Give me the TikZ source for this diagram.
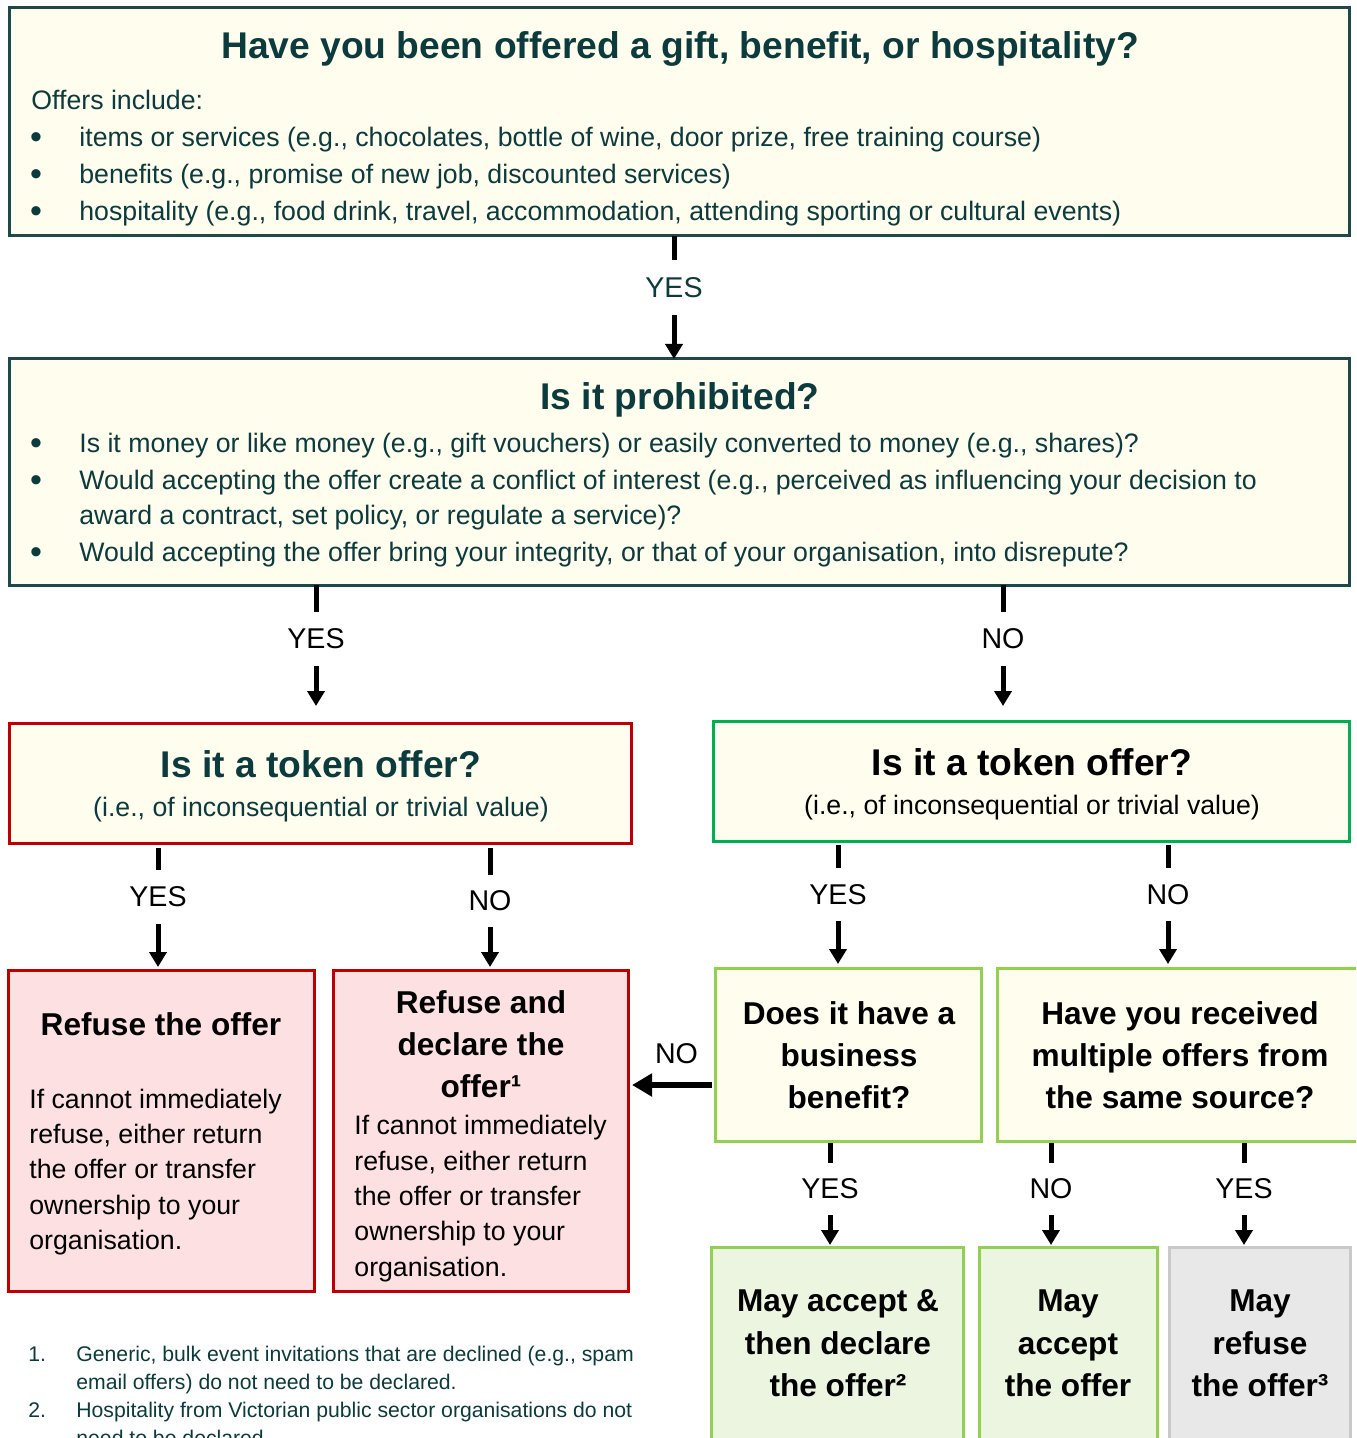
\documentclass[tikz,border=0pt]{standalone}
\usepackage{fontspec}
\setmainfont{Liberation Sans}
\usetikzlibrary{arrows.meta}
\definecolor{tdark}{HTML}{0B3B3C}
\definecolor{topB}{HTML}{1D4A48}
\definecolor{fillY}{HTML}{FEFDEE}
\definecolor{redB}{HTML}{C00000}
\definecolor{pinkF}{HTML}{FDE0E2}
\definecolor{greenB}{HTML}{00B050}
\definecolor{lgreenB}{HTML}{92D050}
\definecolor{lgreenF}{HTML}{EBF5E0}
\definecolor{grayF}{HTML}{E8E8E8}
\definecolor{grayB}{HTML}{C9C9C9}
\newcommand\fTitle{\fontsize{18.6}{22}\selectfont\bfseries}
\newcommand\fBody{\fontsize{13.35}{16}\selectfont}
\newcommand\fHead{\fontsize{15.8}{19}\selectfont\bfseries}
\newcommand\fLab{\fontsize{14.3}{17}\selectfont}
\newcommand\fNote{\fontsize{10.6}{13}\selectfont}
\newcommand\fBul{\fontsize{17}{20}\selectfont}
\begin{document}
\begin{tikzpicture}[x=0.5pt,y=-0.5pt,
  box/.style={draw, line width=1.5pt, inner sep=0pt, outer sep=0pt},
  lt/.style={inner sep=0pt, anchor=base west},
  ct/.style={inner sep=0pt, anchor=base},
  lbl/.style={inner sep=0pt, font=\fLab, text depth=0pt},
  stem/.style={line width=2.5pt},
  arr/.style={line width=2.5pt, -{Triangle[length=7.5pt,width=8.5pt]}},
  harr/.style={line width=3pt, -{Triangle[length=10pt,width=11pt]}},
  bul/.style={inner sep=0pt, anchor=base, font=\fBul, text=tdark}
]
\useasboundingbox (0,0) rectangle (1356,1438);
\begin{scope}
\clip (0,0) rectangle (1356,1438);
\fill[white] (0,0) rectangle (1356,1438);

% ---------- boxes ----------
\node[box, draw=topB, fill=fillY, minimum width=670pt, minimum height=114pt] (q1) at (679,122) {};
\node[box, draw=topB, fill=fillY, minimum width=670pt, minimum height=113pt] (q2) at (679,472) {};
\node[box, draw=redB, fill=fillY, minimum width=311pt, minimum height=60pt] (q3L) at (320,783) {};
\node[box, draw=greenB, fill=fillY, minimum width=318pt, minimum height=60pt] (q3R) at (1031,781) {};
\node[box, draw=redB, fill=pinkF, minimum width=153pt, minimum height=160.5pt] (r1) at (161,1130.5) {};
\node[box, draw=redB, fill=pinkF, minimum width=147.5pt, minimum height=160.5pt] (r2) at (480.5,1130.5) {};
\node[box, draw=lgreenB, fill=fillY, minimum width=133pt, minimum height=86.5pt] (q4L) at (848,1054.5) {};
\node[box, draw=lgreenB, fill=fillY, minimum width=182.5pt, minimum height=86.5pt] (q4R) at (1179.5,1054.5) {};
\node[box, draw=lgreenB, fill=lgreenF, minimum width=126pt, minimum height=101.5pt] (a1) at (837,1348.5) {};
\node[box, draw=lgreenB, fill=lgreenF, minimum width=89pt, minimum height=101.5pt] (a2) at (1068,1348.5) {};
\node[box, draw=grayB, fill=grayF, minimum width=90.5pt, minimum height=101.5pt] (a3) at (1259.5,1348.5) {};

% ---------- box 1 text ----------
\node[ct, font=\fTitle, text=tdark] (t1) at (680,59) {Have you been offered a gift, benefit, or hospitality?};
\node[lt, font=\fBody, text=tdark] (t1a) at (31,110) {Offers include:};
\node[bul] (b1) at (36,149) {•};
\node[bul] (b2) at (36,186) {•};
\node[bul] (b3) at (36,223) {•};
\node[lt, font=\fBody, text=tdark] (t1b) at (79,147) {items or services (e.g., chocolates, bottle of wine, door prize, free training course)};
\node[lt, font=\fBody, text=tdark] (t1c) at (79,184) {benefits (e.g., promise of new job, discounted services)};
\node[lt, font=\fBody, text=tdark] (t1d) at (79,221) {hospitality (e.g., food drink, travel, accommodation, attending sporting or cultural events)};

% ---------- box 2 text ----------
\node[ct, font=\fTitle, text=tdark] (t2) at (680,410) {Is it prohibited?};
\node[bul] (b4) at (36,454) {•};
\node[bul] (b5) at (36,491) {•};
\node[bul] (b6) at (36,563) {•};
\node[lt, font=\fBody, text=tdark] (t2a) at (79,452) {Is it money or like money (e.g., gift vouchers) or easily converted to money (e.g., shares)?};
\node[lt, font=\fBody, text=tdark] (t2b) at (79,489) {Would accepting the offer create a conflict of interest (e.g., perceived as influencing your decision to};
\node[lt, font=\fBody, text=tdark] (t2c) at (79,524) {award a contract, set policy, or regulate a service)?};
\node[lt, font=\fBody, text=tdark] (t2d) at (79,561) {Would accepting the offer bring your integrity, or that of your organisation, into disrepute?};

% ---------- box 3 texts ----------
\node[ct, font=\fTitle, text=tdark] (t3L) at (321,777) {Is it a token offer?};
\node[ct, font=\fBody, text=tdark] (t3La) at (321,816) {(i.e., of inconsequential or trivial value)};
\node[ct, font=\fTitle] (t3R) at (1032,775) {Is it a token offer?};
\node[ct, font=\fBody] (t3Ra) at (1032,814) {(i.e., of inconsequential or trivial value)};

% ---------- refuse boxes ----------
\node[ct, font=\fHead] (tr1) at (161,1035) {Refuse the offer};
\node[lt, font=\fBody] (tr1a) at (29,1108.5) {If cannot immediately};
\node[lt, font=\fBody] (tr1b) at (29,1143.5) {refuse, either return};
\node[lt, font=\fBody] (tr1c) at (29,1178.5) {the offer or transfer};
\node[lt, font=\fBody] (tr1d) at (29,1214.5) {ownership to your};
\node[lt, font=\fBody] (tr1e) at (29,1249.5) {organisation.};

\node[ct, font=\fHead] (tr2) at (481,1013) {Refuse and};
\node[ct, font=\fHead] (tr2a) at (481,1055) {declare the};
\node[ct, font=\fHead] (tr2b) at (481,1097) {offer¹};
\node[lt, font=\fBody] (tr2c) at (354,1134.5) {If cannot immediately};
\node[lt, font=\fBody] (tr2d) at (354,1170.5) {refuse, either return};
\node[lt, font=\fBody] (tr2e) at (354,1205.5) {the offer or transfer};
\node[lt, font=\fBody] (tr2f) at (354,1240.5) {ownership to your};
\node[lt, font=\fBody] (tr2g) at (354,1276.5) {organisation.};

% ---------- question boxes level 4 ----------
\node[ct, font=\fHead] (tq4a) at (849,1024) {Does it have a};
\node[ct, font=\fHead] (tq4b) at (849,1066) {business};
\node[ct, font=\fHead] (tq4c) at (849,1108) {benefit?};
\node[ct, font=\fHead] (tq5a) at (1180,1024) {Have you received};
\node[ct, font=\fHead] (tq5b) at (1180,1066) {multiple offers from};
\node[ct, font=\fHead] (tq5c) at (1180,1108) {the same source?};

% ---------- answer boxes ----------
\node[ct, font=\fHead] (ta1) at (838,1311) {May accept \&};
\node[ct, font=\fHead] (ta1b) at (838,1354) {then declare};
\node[ct, font=\fHead] (ta1c) at (838,1396) {the offer²};
\node[ct, font=\fHead] (ta2) at (1068,1311) {May};
\node[ct, font=\fHead] (ta2b) at (1068,1354) {accept};
\node[ct, font=\fHead] (ta2c) at (1068,1396) {the offer};
\node[ct, font=\fHead] (ta3) at (1260,1311) {May};
\node[ct, font=\fHead] (ta3b) at (1260,1354) {refuse};
\node[ct, font=\fHead] (ta3c) at (1260,1396) {the offer³};

% ---------- footnotes ----------
\node[lt, font=\fNote, text=tdark] (n1) at (28,1361.5) {1.};
\node[lt, font=\fNote, text=tdark] (n1a) at (76,1361.5) {Generic, bulk event invitations that are declined (e.g., spam};
\node[lt, font=\fNote, text=tdark] (n1b) at (76,1389.5) {email offers) do not need to be declared.};
\node[lt, font=\fNote, text=tdark] (n2) at (28,1417.5) {2.};
\node[lt, font=\fNote, text=tdark] (n2a) at (76,1417.5) {Hospitality from Victorian public sector organisations do not};
\node[lt, font=\fNote, text=tdark] (n2b) at (76,1445.5) {need to be declared.};

% ---------- labels (at the connector's x) ----------
\node[lbl, text=tdark, minimum height=27.5pt] (yes1) at (674,287.5) {YES};
\node[lbl, minimum height=27pt] (yes2) at (316,639) {YES};
\node[lbl, minimum height=27pt] (no2) at (1003,639) {NO};
\node[lbl, minimum height=27pt] (yes3) at (158,897) {YES};
\node[lbl, minimum height=26pt] (no3) at (490,901) {NO};
\node[lbl, minimum height=26.5pt] (yes4) at (838,894.5) {YES};
\node[lbl, minimum height=26.5pt] (no4) at (1168,894.5) {NO};
\node[lbl, minimum height=26pt] (yes5) at (830,1189) {YES};
\node[lbl, minimum height=26pt] (no5) at (1051,1189) {NO};
\node[lbl, minimum height=26pt] (yes6) at (1244,1189) {YES};

% ---------- connectors ----------
\draw[stem] (q1.south -| yes1) -- (yes1.north);
\draw[arr] (yes1.south) -- (yes1 |- q2.north);

\draw[stem] (q2.south -| yes2) -- (yes2.north);
\draw[arr, shorten >=8.5pt] (yes2.south) -- (yes2 |- q3L.north);
\draw[stem] (q2.south -| no2) -- (no2.north);
\draw[arr, shorten >=7.5pt] (no2.south) -- (no2 |- q3R.north);

\draw[stem, shorten <=2.5pt] (q3L.south -| yes3) -- (yes3.north);
\draw[arr, shorten >=1.5pt] (yes3.south) -- (yes3 |- r1.north);
\draw[stem, shorten <=2.5pt] (q3L.south -| no3) -- (no3.north);
\draw[arr, shorten >=1.5pt] (no3.south) -- (no3 |- r2.north);

\draw[stem, shorten <=2pt] (q3R.south -| yes4) -- (yes4.north);
\draw[arr, shorten >=2pt] (yes4.south) -- (yes4 |- q4L.north);
\draw[stem, shorten <=2pt] (q3R.south -| no4) -- (no4.north);
\draw[arr, shorten >=2pt] (no4.south) -- (no4 |- q4R.north);

\draw[harr, shorten <=1.5pt, shorten >=2pt] ([yshift=-15.25pt]q4L.west) -- ([yshift=-15.25pt]q4L.west -| r2.east)
  node[midway, yshift=15.5pt, xshift=2.5pt, inner sep=0pt, font=\fLab] (noH) {NO};

\draw[stem, shorten <=1pt] (q4L.south -| yes5) -- (yes5.north);
\draw[arr, shorten >=1pt] (yes5.south) -- (yes5 |- a1.north);
\draw[stem, shorten <=1pt] (q4R.south -| no5) -- (no5.north);
\draw[arr, shorten >=1pt] (no5.south) -- (no5 |- a2.north);
\draw[stem, shorten <=1pt] (q4R.south -| yes6) -- (yes6.north);
\draw[arr, shorten >=1pt] (yes6.south) -- (yes6 |- a3.north);
\end{scope}
\end{tikzpicture}
\end{document}
